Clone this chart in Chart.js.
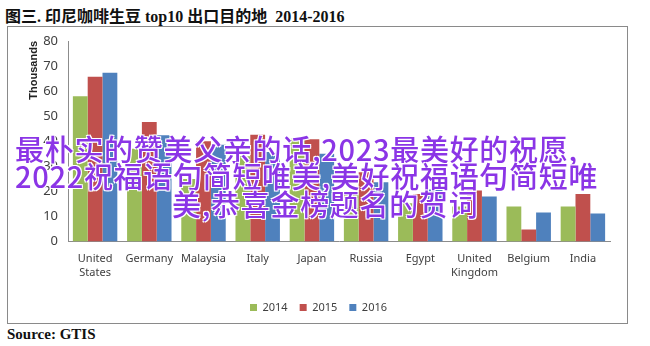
<!DOCTYPE html>
<html>
<head>
<meta charset="utf-8">
<script src="https://cdn.jsdelivr.net/npm/chart.js@4/dist/chart.umd.min.js"></script>
<style>
    html, body { margin: 0; padding: 0; background: #fff; }
    body { width: 650px; height: 346px; position: relative; overflow: hidden; }
    .title {
        position: absolute; left: 5px; top: 3px;
        font: bold 16px "Liberation Serif", "Noto Sans CJK SC", serif;
        color: #111; white-space: pre;
    }
    .box {
        position: absolute; left: 7px; top: 26px; width: 619px; height: 296px;
        border: 1px solid #8a8a8a;
    }
    .source {
        position: absolute; left: 7px; top: 326px;
        font: bold 15px "Liberation Serif", serif; color: #111;
    }
    .wm {
        position: absolute; white-space: nowrap;
        font: 500 29px "Noto Sans CJK SC", sans-serif; color: #8b35e6;
        letter-spacing: 0.7px; line-height: 28px;
        text-shadow: -1px -1px 0 #fff, 1px -1px 0 #fff, -1px 1px 0 #fff, 1px 1px 0 #fff;
    }
</style>
</head>
<body>
<div class="title">图三. 印尼咖啡生豆 top10 出口目的地  2014-2016</div>
<div class="box"><canvas id="chart"></canvas></div>
<div class="source">Source: GTIS</div>
<div class="wm" style="left:15px; top:134px;">最朴实的赞美父亲的话,2023最美好的祝愿,</div>
<div class="wm" style="left:15px; top:161px;">2022祝福语句简短唯美,美好祝福语句简短唯</div>
<div class="wm" style="left:172px; top:189px;">美,恭喜金榜题名的贺词</div>
<script>
// categories and values (thousands of bags)
const countries = [['United', 'States'], 'Germany', 'Malaysia', 'Italy', 'Japan', 'Russia', 'Egypt', ['United', 'Kingdom'], 'Belgium', 'India'];
const years = ['2014', '2015', '2016'];
const v2014 = [58, 37, 25, 34, 41, 19.7, 15.3, 14, 14, 14];
const v2015 = [65.7, 47.7, 40, 42.6, 40.8, 27.7, 19, 20.4, 4.8, 19];
const v2016 = [67.3, 42.4, 38.6, 35.7, 35, 23.7, 20.8, 18, 11.6, 11.2];
const yTicks = [0, 10, 20, 30, 40, 50, 60, 70, 80];

const colors = ['#9bbb59', '#c0504d', '#4f81bd'];
const series = [v2014, v2015, v2016];

const tickFont = { family: '"Noto Sans", sans-serif', size: 11 };

new Chart(document.getElementById('chart'), {
    type: 'bar',
    data: {
        labels: countries,
        datasets: years.map((y, i) => ({
            label: y,
            data: series[i],
            backgroundColor: colors[i],
            borderWidth: 0,
            categoryPercentage: 0.82,
            barPercentage: 1
        }))
    },
    options: {
        responsive: true,
        maintainAspectRatio: false,
        animation: false,
        layout: { padding: { left: 19, right: 17, top: 0, bottom: 0 } },
        plugins: {
            legend: {
                position: 'bottom',
                labels: { boxWidth: 7, boxHeight: 7, font: tickFont, color: '#404040', padding: 12 }
            },
            tooltip: { enabled: false }
        },
        scales: {
            x: {
                grid: { display: false, drawTicks: false },
                border: { color: '#8c8c8c' },
                ticks: { font: tickFont, color: '#404040', maxRotation: 0, autoSkip: false, padding: 11 }
            },
            y: {
                min: 0,
                max: 80,
                afterBuildTicks: (axis) => { axis.ticks = yTicks.map(v => ({ value: v })); },
                afterFit: (axis) => { axis.width = 41; axis.paddingTop = 14; },
                grid: { display: false, drawTicks: false },
                border: { color: '#8c8c8c' },
                ticks: { font: { family: '"Noto Sans", sans-serif', size: 13 }, color: '#404040', padding: 10 },
                title: {
                    display: true, text: 'Thousands', align: 'end',
                    font: { family: '"Liberation Sans", sans-serif', size: 11, weight: 'bold' },
                    color: '#222', padding: { top: 0, bottom: 4 }
                }
            }
        }
    }
});
</script>
</body>
</html>
